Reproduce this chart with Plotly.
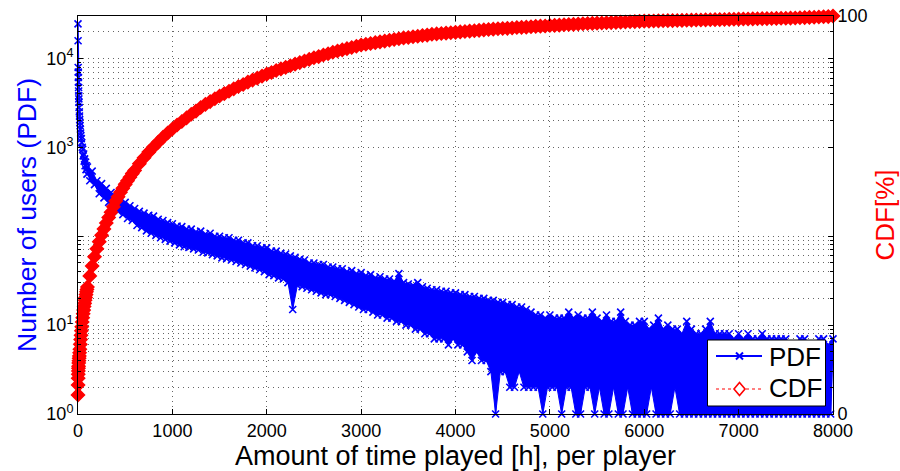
import plotly.graph_objects as go

# ---------------- data ----------------
pdf_head_hours = [0, 1, 2, 3, 4, 5, 6, 7, 8, 9, 10, 12, 14, 16, 18, 20, 22, 25, 28, 31, 35,
                  40, 45, 50, 55, 60, 65, 70, 75, 80, 85, 90, 95]
pdf_head_users = [24500, 15800, 7900, 7000, 6100, 5400, 4700, 4300, 3800, 3500, 3200,
                  2800, 2500, 2250, 2050, 1900, 1750, 1600, 1450, 1350, 1250,
                  1130, 1000, 950, 800, 840, 700, 740, 620, 680, 560, 620, 500]

pdf_tail_hours = list(range(100, 8001, 25))
pdf_tail_users = [
    600, 420, 540, 380,   # 100
    420, 300, 390, 270,   # 200
    345, 240, 310, 215,   # 300
    280, 190, 255, 175,   # 400
    240, 158, 220, 150,   # 500
    205, 132, 190, 125,   # 600
    182, 115, 172, 108,   # 700
    168, 102, 155, 96,    # 800
    150, 92, 142, 88,     # 900
    138, 84, 130, 80,     # 1000
    128, 76, 120, 75,     # 1100
    120, 72, 112, 70,     # 1200
    114, 66, 106, 65,     # 1300
    108, 62, 100, 60,     # 1400
    100, 57, 96, 56,      # 1500
    96, 54, 90, 52,       # 1600
    90, 50, 84, 48,       # 1700
    84, 46, 78, 44,       # 1800
    78, 42, 74, 40,       # 1900
    74, 37, 68, 36,       # 2000
    68, 34, 64, 33,       # 2100
    63, 30, 60, 15,       # 2200
    58, 28, 55, 27,       # 2300
    54, 26, 50, 25,       # 2400
    50, 24, 48, 23,       # 2500
    48, 22, 45, 22,       # 2600
    45, 21, 43, 20,       # 2700
    43, 19, 40, 18,       # 2800
    41, 17, 38, 16,       # 2900
    39, 15, 36, 15,       # 3000
    37, 14, 34, 13,       # 3100
    35, 13, 33, 12,       # 3200
    33, 12, 31, 11,       # 3300
    38, 11, 30, 10,       # 3400
    29, 10, 28, 9,        # 3500
    30, 9, 27, 8,         # 3600
    26, 8, 25, 7,         # 3700
    25, 7, 24, 7,         # 3800
    24, 6, 23, 7,         # 3900
    23, 6, 22, 6,         # 4000
    22, 5, 21, 4,         # 4100
    21, 5, 20, 4,         # 4200
    20, 4, 19, 3,         # 4300
    19, 1, 18, 3,         # 4400
    18, 3, 17, 2,         # 4500
    17, 2, 16, 3,         # 4600
    16, 2, 15, 2,         # 4700
    14, 2, 13, 2,         # 4800
    13, 1, 12, 2,         # 4900
    13, 2, 12, 2,         # 5000
    12, 1, 12, 2,         # 5100
    14, 2, 12, 1,         # 5200
    13, 1, 12, 2,         # 5300
    12, 2, 14, 1,         # 5400
    12, 2, 11, 1,         # 5500
    13, 1, 11, 2,         # 5600
    11, 1, 14, 1,         # 5700
    11, 2, 10, 1,         # 5800
    10, 1, 11, 1,         # 5900
    11, 1, 9, 2,          # 6000
    10, 1, 12, 1,         # 6100
    9, 1, 10, 1,          # 6200
    9, 2, 9, 1,           # 6300
    8, 1, 11, 1,          # 6400
    9, 1, 8, 1,           # 6500
    8, 1, 9, 1,           # 6600
    11, 1, 8, 1,          # 6700
    8, 1, 8, 1,           # 6800
    8, 1, 7, 1,           # 6900
    8, 1, 7, 1,           # 7000
    8, 1, 7, 1,           # 7100
    7, 1, 8, 1,           # 7200
    7, 1, 7, 1,           # 7300
    7, 1, 7, 1,           # 7400
    7, 1, 6, 1,           # 7500
    6, 1, 7, 1,           # 7600
    7, 1, 6, 1,           # 7700
    6, 1, 7, 1,           # 7800
    7, 1, 6, 1,           # 7900
    7,                    # 8000
]
assert len(pdf_tail_hours) == len(pdf_tail_users)

cdf_head_hours = [0, 1, 2, 3, 4, 5, 6, 8, 10, 12, 14, 17, 20, 24, 28, 32, 36, 40,
                  45, 50, 55, 60, 65, 70, 75, 80, 85, 90, 95]
cdf_head_pct = [4.8, 7.3, 9.0, 10.0, 10.8, 11.5, 12.0, 12.8, 13.4, 14.0, 14.6, 15.4, 16.3,
                17.5, 18.7, 19.8, 20.9, 21.9, 23.1, 24.2, 25.2, 26.1, 27.0, 27.8, 28.6,
                29.3, 30.0, 30.7, 31.3]
cdf_mid_hours = list(range(100, 600, 25))
cdf_mid_pct = [31.9, 34.7, 37.2, 39.5, 41.5, 43.3, 44.9, 46.5, 48.0, 49.4,
               50.7, 52.1, 53.5, 54.6, 55.7, 56.7, 57.7, 58.6, 59.5, 60.4]
cdf_tail_hours = list(range(600, 8001, 50))
cdf_tail_pct = [
    61.2, 62.9, 64.4, 65.8, 67.1, 68.3, 69.5, 70.6, 71.6, 72.6,
    73.5, 74.4, 75.3, 76.1, 77.0, 77.8, 78.5, 79.2, 79.9, 80.5,
    81.1, 81.7, 82.3, 82.8, 83.4, 83.9, 84.4, 84.9, 85.4, 85.8,
    86.3, 86.7, 87.1, 87.5, 87.9, 88.3, 88.7, 89.1, 89.5, 89.8,
    90.2, 90.5, 90.9, 91.2, 91.5, 91.8, 92.1, 92.4, 92.7, 92.9,
    93.1, 93.3, 93.5, 93.7, 93.9, 94.1, 94.3, 94.5, 94.6, 94.8,
    94.9, 95.1, 95.2, 95.4, 95.5, 95.6, 95.7, 95.8, 95.9, 96.0,
    96.1, 96.2, 96.3, 96.4, 96.5, 96.6, 96.7, 96.8, 96.85, 96.9,
    97.0, 97.1, 97.15, 97.2, 97.3, 97.4, 97.45, 97.5, 97.6, 97.65,
    97.7, 97.8, 97.85, 97.9, 98.0, 98.05, 98.1, 98.15, 98.2, 98.25,
    98.3, 98.35, 98.4, 98.45, 98.5, 98.55, 98.6, 98.65, 98.7, 98.72,
    98.75, 98.78, 98.8, 98.83, 98.85, 98.88, 98.9, 98.93, 98.95, 98.98,
    99.0, 99.03, 99.05, 99.08, 99.1, 99.13, 99.15, 99.18, 99.2, 99.23,
    99.25, 99.28, 99.3, 99.33, 99.35, 99.38, 99.4, 99.43, 99.45, 99.48,
    99.5, 99.55, 99.6, 99.65, 99.7, 99.75, 99.8, 99.85, 100.0,
]
assert len(cdf_tail_hours) == len(cdf_tail_pct)

x_ticks = [0, 1000, 2000, 3000, 4000, 5000, 6000, 7000, 8000]
y_major = [1, 10, 100, 1000, 10000]
y_major_text = ["10<sup>0</sup>", "10<sup>1</sup>", "", "10<sup>3</sup>", "10<sup>4</sup>"]
y_minor = [2, 3, 4, 5, 6, 7, 8, 9, 20, 30, 40, 50, 60, 70, 80, 90,
           2000, 3000, 4000, 5000, 6000, 7000, 8000, 9000, 20000]
legend_labels = ["PDF", "CDF"]

pdf_hours = pdf_head_hours + pdf_tail_hours
pdf_users = pdf_head_users + pdf_tail_users
cdf_hours = cdf_head_hours + cdf_mid_hours + cdf_tail_hours
cdf_pct = cdf_head_pct + cdf_mid_pct + cdf_tail_pct

# spread of the PDF (upper / lower alternating samples) shaded as one band
band_x = pdf_tail_hours[0::2] + pdf_tail_hours[1::2][::-1]
band_y = pdf_tail_users[0::2] + pdf_tail_users[1::2][::-1]

# ---------------- figure ----------------
FONT = "Liberation Sans, Arial, Helvetica, sans-serif"
BLUE = "#0000FF"
RED = "#FF0000"
GRID = "rgba(0,0,0,0.6)"

# plot area in pixels (for placing the legend box like the original)
L, R, T, B = 78, 833, 16, 414
W, H = 900, 471


def px(xpix):
    return (xpix - L) / (R - L)


def py(ypix):
    return (B - ypix) / (B - T)


fig = go.Figure()
fig.add_trace(go.Scatter(
    x=band_x, y=band_y, mode="lines", fill="toself", fillcolor=BLUE,
    line=dict(color=BLUE, width=1), showlegend=False, hoverinfo="skip", yaxis="y"))
fig.add_trace(go.Scatter(
    x=pdf_hours, y=pdf_users, name="PDF", mode="lines+markers", showlegend=False,
    line=dict(color=BLUE, width=1.4),
    marker=dict(symbol="x-thin", size=7, line=dict(color=BLUE, width=1.6), color=BLUE),
    cliponaxis=False, yaxis="y"))
fig.add_trace(go.Scatter(
    x=cdf_hours, y=cdf_pct, name="CDF", mode="lines+markers", showlegend=False,
    line=dict(color=RED, width=1, dash="dot"),
    marker=dict(symbol="diamond", size=10, color=RED, line=dict(color=RED, width=1.5)),
    cliponaxis=False, yaxis="y2"))

# ---- legend box drawn like the MATLAB legend ----
bx0, bx1, by0, by1 = 707.5, 825.5, 340, 406
shapes = [
    dict(type="rect", xref="paper", yref="paper", x0=px(bx0), x1=px(bx1),
         y0=py(by1), y1=py(by0), fillcolor="white", line=dict(color="black", width=1),
         layer="above"),
    # PDF sample line and x marker
    dict(type="line", xref="paper", yref="paper", x0=px(716), x1=px(762),
         y0=py(356), y1=py(356), line=dict(color=BLUE, width=2), layer="above"),
    dict(type="line", xref="paper", yref="paper", x0=px(736), x1=px(743),
         y0=py(352.5), y1=py(359.5), line=dict(color=BLUE, width=2), layer="above"),
    dict(type="line", xref="paper", yref="paper", x0=px(736), x1=px(743),
         y0=py(359.5), y1=py(352.5), line=dict(color=BLUE, width=2), layer="above"),
    # CDF sample dotted line and open diamond
    dict(type="line", xref="paper", yref="paper", x0=px(716), x1=px(733),
         y0=py(389), y1=py(389), line=dict(color=RED, width=1, dash="dot"), layer="above"),
    dict(type="line", xref="paper", yref="paper", x0=px(746), x1=px(762),
         y0=py(389), y1=py(389), line=dict(color=RED, width=1, dash="dot"), layer="above"),
    dict(type="path", xref="paper", yref="paper",
         path=(f"M {px(739.5)},{py(382.5)} L {px(745)},{py(389)} "
               f"L {px(739.5)},{py(395.5)} L {px(734)},{py(389)} Z"),
         line=dict(color=RED, width=1.6), fillcolor="white", layer="above"),
]
annotations = [
    dict(xref="paper", yref="paper", x=px(767), y=py(357), xanchor="left", yanchor="middle",
         text=legend_labels[0], showarrow=False, font=dict(size=26, family=FONT, color="black")),
    dict(xref="paper", yref="paper", x=px(767), y=py(388), xanchor="left", yanchor="middle",
         text=legend_labels[1], showarrow=False, font=dict(size=26, family=FONT, color="black")),
]

fig.update_layout(
    width=W, height=H,
    margin=dict(l=L, r=W - R, t=T, b=H - B),
    paper_bgcolor="white", plot_bgcolor="white",
    font=dict(family=FONT, size=18, color="black"),
    showlegend=False,
    shapes=shapes, annotations=annotations,
    xaxis=dict(
        range=[0, 8000], tickmode="array", tickvals=x_ticks,
        ticks="inside", ticklen=5, tickcolor="black",
        showline=True, linecolor="black", linewidth=1, mirror="ticks",
        showgrid=True, gridcolor=GRID, griddash="1px,4px", gridwidth=1,
        zeroline=False, tickfont=dict(size=18), automargin=False,
        title=dict(text="Amount of time played [h], per player",
                   font=dict(size=27), standoff=2),
    ),
    yaxis=dict(
        type="log", range=[0, 4.477], tickmode="array",
        tickvals=y_major, ticktext=y_major_text,
        ticks="inside", ticklen=5, tickcolor="black",
        showline=True, linecolor="black", linewidth=1, mirror="ticks",
        showgrid=True, gridcolor=GRID, griddash="1px,4px", gridwidth=1,
        minor=dict(tickmode="array", tickvals=y_minor, ticks="inside", ticklen=3,
                   tickcolor="black", showgrid=True, gridcolor=GRID,
                   griddash="1px,4px", gridwidth=1),
        zeroline=False, tickfont=dict(size=18), automargin=False,
        title=dict(text="Number of users (PDF)", font=dict(size=26.5, color=BLUE),
                   standoff=2),
    ),
    yaxis2=dict(
        overlaying="y", side="right", range=[0, 100],
        tickmode="array", tickvals=[0, 100], ticktext=["0", "100"],
        ticks="inside", ticklen=5, tickcolor="black",
        showline=True, linecolor="black", linewidth=1,
        showgrid=False, zeroline=False, tickfont=dict(size=18), automargin=False,
        title=dict(text="CDF[%]", font=dict(size=26, color=RED), standoff=10),
    ),
)

fig.write_html("out.html")
